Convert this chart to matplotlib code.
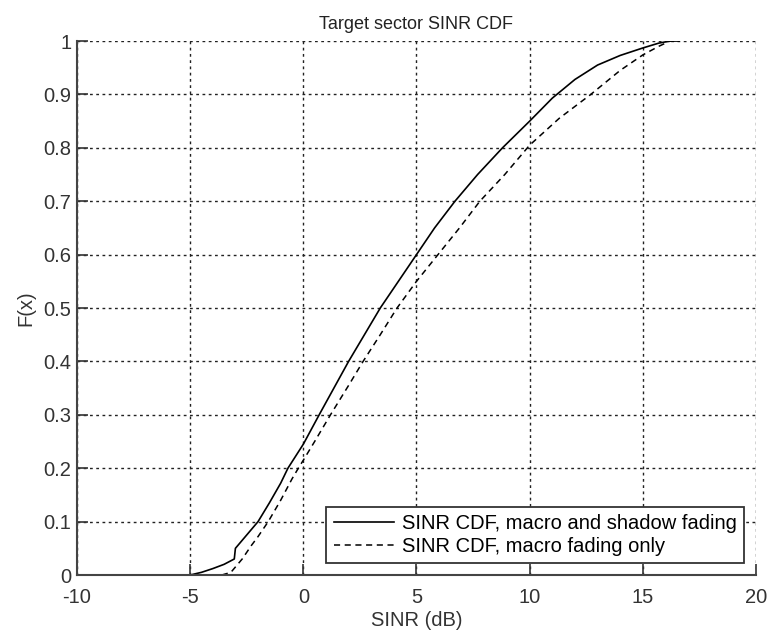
import numpy as np
import matplotlib
matplotlib.use('Agg')
import matplotlib.pyplot as plt

# --- data (SINR in dB, CDF value) ---
sinr_shadow = [-5.9, -5.0, -4.5, -4.0, -3.5, -3.05, -3.0, -2.5, -2.0, -1.5, -1.0,
               -0.68, 0.0, 0.7, 1.35, 2.0, 2.7, 3.4, 4.2, 5.0, 5.8, 6.7,
               7.7, 8.8, 10.0, 11.0, 12.0, 13.0, 14.0, 15.0, 15.7, 16.2, 16.6]
cdf_shadow = [0.0, 0.0, 0.005, 0.012, 0.02, 0.03, 0.05, 0.075, 0.1, 0.135, 0.172,
              0.2, 0.245, 0.3, 0.35, 0.4, 0.45, 0.5, 0.55, 0.6, 0.65, 0.7,
              0.75, 0.8, 0.85, 0.893, 0.928, 0.955, 0.973, 0.987, 0.996, 1.0, 1.0]

sinr_macro = [-3.6, -3.2, -3.0, -2.7, -2.3, -2.0, -1.55, -1.0, -0.5, -0.22, 0.0,
              0.5, 1.2, 2.0, 2.64, 3.4, 4.14, 5.0, 5.95, 6.9, 7.8, 8.9, 10.0,
              11.3, 12.7, 14.0, 15.0, 15.7, 16.2, 16.6]
cdf_macro = [0.0, 0.005, 0.015, 0.03, 0.055, 0.072, 0.1, 0.14, 0.18, 0.2, 0.215,
             0.25, 0.3, 0.355, 0.4, 0.45, 0.5, 0.55, 0.6, 0.65, 0.7, 0.75, 0.805,
             0.855, 0.9, 0.945, 0.974, 0.99, 1.0, 1.0]

labels = ['SINR CDF, macro and shadow fading', 'SINR CDF, macro fading only']

plt.rcParams['font.family'] = ['Liberation Sans', 'DejaVu Sans']
plt.rcParams['axes.unicode_minus'] = False

fig = plt.figure(figsize=(7.69, 6.36), dpi=100)
ax = fig.add_axes([0.1001, 0.0959, 0.883, 0.8396])

ax.plot(sinr_shadow, cdf_shadow, color='black', linewidth=1.2, label=labels[0])
ax.plot(sinr_macro, cdf_macro, color='black', linewidth=1.1,
        linestyle=(0, (4, 3)), label=labels[1])

ax.set_xlim(-10, 20)
ax.set_ylim(0, 1)
ax.set_xticks(np.arange(-10, 21, 5))
ax.set_yticks(np.arange(0, 1.01, 0.1))
ax.set_yticklabels(['0', '0.1', '0.2', '0.3', '0.4', '0.5', '0.6', '0.7', '0.8', '0.9', '1'])

ax.grid(True, color='#222222', linestyle=(0, (2, 2.5)), linewidth=1.0)
for side in ['top', 'right']:
    ax.spines[side].set_visible(False)
for side in ['left', 'bottom']:
    ax.spines[side].set_linewidth(1.5)
    ax.spines[side].set_color('#444444')

ax.tick_params(direction='in', length=8, width=1.2, color='#333333',
               labelsize=14.5, labelcolor='#333333')
ax.tick_params(axis='x', pad=9)
ax.tick_params(axis='y', pad=4)

ax.set_title('Target sector SINR CDF', fontsize=13, color='#222222', pad=9)
ax.set_xlabel('SINR (dB)', fontsize=14.5, color='#333333', labelpad=3)
ax.set_ylabel('F(x)', fontsize=14.5, color='#333333', labelpad=6)

leg = ax.legend(loc='lower right', fontsize=14.5, frameon=True, fancybox=False,
                handlelength=3.0, handletextpad=0.4, borderpad=0.35,
                borderaxespad=0.6, labelspacing=0.2)
leg.get_frame().set_edgecolor('#333333')
leg.get_frame().set_linewidth(1.3)
leg.get_frame().set_alpha(1)

plt.savefig('out.png', dpi=100)
